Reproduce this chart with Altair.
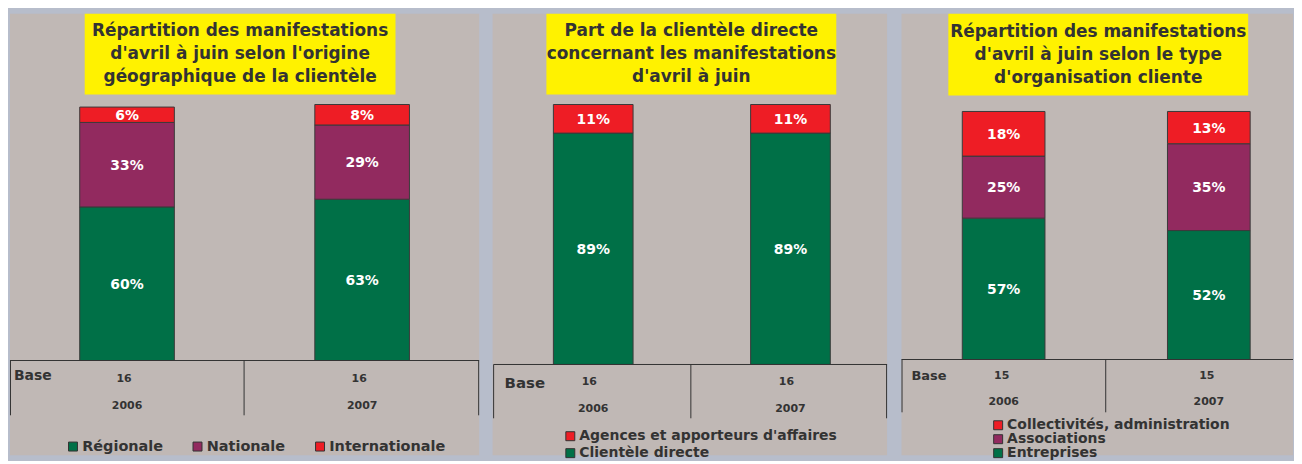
import altair as alt
import pandas as pd

# ---------------- data ----------------
YEARS = ["2006", "2007"]

P1_TITLE = ["Répartition des manifestations", "d'avril à juin selon l'origine", "géographique de la clientèle"]
P1_CATS = ["Régionale", "Nationale", "Internationale"]          # stacking order, bottom -> top
P1_2006 = [60, 33, 6]
P1_2007 = [63, 29, 8]
P1_BASE = [16, 16]
P1_LEGEND = ["Régionale", "Nationale", "Internationale"]

P2_TITLE = ["Part de la clientèle directe", "concernant les manifestations", "d'avril à juin"]
P2_CATS = ["Clientèle directe", "Agences et apporteurs d'affaires"]
P2_2006 = [89, 11]
P2_2007 = [89, 11]
P2_BASE = [16, 16]
P2_LEGEND = ["Agences et apporteurs d'affaires", "Clientèle directe"]

P3_TITLE = ["Répartition des manifestations", "d'avril à juin selon le type", "d'organisation cliente"]
P3_CATS = ["Entreprises", "Associations", "Collectivités, administration"]
P3_2006 = [57, 25, 18]
P3_2007 = [52, 35, 13]
P3_BASE = [15, 15]
P3_LEGEND = ["Collectivités, administration", "Associations", "Entreprises"]

# ---------------- styles ----------------
GREEN, PURPLE, RED = "#007047", "#922a5f", "#ee1d25"
YELLOW = "#fff200"
PANEL = "#c0b8b5"
BG = "#b7bdcb"
INK = "#333333"
FONT = "DejaVu Sans"
PANEL_H = 443


def panel(title, cats, v06, v07, base, legend_order, cat_colors, g):
    rows = []
    for yr, vals in zip(YEARS, [v06, v07]):
        for i, (c, v) in enumerate(zip(cats, vals)):
            rows.append({"year": yr, "cat": c, "value": v, "ord": i})
    df = pd.DataFrame(rows)
    base_df = pd.DataFrame({"year": YEARS, "base": base})
    one = pd.DataFrame({"k": [0]})

    cmap = dict(zip(cats, cat_colors))
    xs = alt.Scale(domain=YEARS, range=g["xr"], paddingInner=g["pi"], paddingOuter=0)
    ys = alt.Scale(domain=[0, 100], range=g["yr"])
    cs = alt.Scale(domain=legend_order, range=[cmap[c] for c in legend_order])

    layers = []
    # yellow title box
    layers.append(alt.Chart(one).mark_rect(color=YELLOW).encode(
        x=alt.value(g["tx"][0]), x2=alt.value(g["tx"][1]),
        y=alt.value(0), y2=alt.value(g["th"])))
    layers.append(alt.Chart(one).mark_text(
        text=title, font=FONT, fontSize=17, fontWeight="bold", color=INK,
        align="center", baseline="middle", lineHeight=23.3).encode(
        x=alt.value(g["tcx"]), y=alt.value(g["tcy"])))

    stacked = alt.Chart(df).transform_stack(
        stack="value", groupby=["year"], sort=[alt.SortField("ord", order="ascending")],
        as_=["v0", "v1"])

    leg = alt.Legend(
        title=None, orient="none", legendX=g["lx"], legendY=g["ly"],
        direction=g["ldir"], columns=g["lcols"], symbolType="square", symbolSize=81,
        symbolStrokeColor=INK, symbolStrokeWidth=1, labelFont=FONT,
        labelFontSize=g["lfs"], labelFontWeight="bold", labelColor=INK,
        labelOffset=2, columnPadding=27, rowPadding=g["lrp"], padding=0,
        labelLimit=400)

    layers.append(stacked.mark_bar(stroke="#3a3a3a", strokeWidth=1).encode(
        x=alt.X("year:N", scale=xs, axis=None),
        y=alt.Y("v0:Q", scale=ys, axis=None),
        y2="v1:Q",
        color=alt.Color("cat:N", scale=cs, legend=leg)))

    layers.append(stacked.transform_calculate(
        mid="(datum.v0 + datum.v1) / 2", label="datum.value + '%'").mark_text(
        font=FONT, fontSize=14, fontWeight="bold", color="white",
        align="center", baseline="middle", dy=1).encode(
        x=alt.X("year:N", scale=xs, axis=None),
        y=alt.Y("mid:Q", scale=ys, axis=None),
        text="label:N"))

    # table lines
    layers.append(alt.Chart(one).mark_rule(color=INK, strokeWidth=1).encode(
        x=alt.value(g["hx"][0]), x2=alt.value(g["hx"][1]), y=alt.value(g["hy"])))
    for vx in g["vx"]:
        layers.append(alt.Chart(one).mark_rule(color=INK, strokeWidth=1).encode(
            x=alt.value(vx), y=alt.value(g["hy"]), y2=alt.value(g["vy2"])))

    layers.append(alt.Chart(one).mark_text(
        text="Base", font=FONT, fontSize=g["bfs"], fontWeight="bold", color=INK,
        align="left", baseline="middle").encode(
        x=alt.value(g["bx"]), y=alt.value(g["by"])))

    layers.append(alt.Chart(base_df).mark_text(
        font=FONT, fontSize=11, fontWeight="bold", color=INK,
        align="center", baseline="middle", dx=g["cdx"]).encode(
        x=alt.X("year:N", scale=xs, axis=None),
        y=alt.value(g["cy"]), text="base:N"))

    layers.append(alt.Chart(base_df).mark_text(
        font=FONT, fontSize=11, fontWeight="bold", color=INK,
        align="center", baseline="middle").encode(
        x=alt.X("year:N", scale=xs, axis=None),
        y=alt.value(g["yy"]), text="year:N"))

    return alt.layer(*layers).properties(width=g["W"], height=PANEL_H)


G1 = dict(W=471, xr=[70, 401], pi=0.5975, yr=[348, 91], tx=[75, 387], th=81,
          tcx=231, tcy=17, hx=[0, 471], hy=348, vx=[0.5, 235, 470.5], vy2=403,
          bx=4, by=364, bfs=14, cy=367, cdx=-3, yy=394,
          lx=56, ly=427, ldir="horizontal", lcols=3, lfs=14.5, lrp=2)
G2 = dict(W=396, xr=[61, 339], pi=0.596, yr=[352, 91], tx=[54, 345], th=81,
          tcx=199.5, tcy=17, hx=[1, 396], hy=352, vx=[1, 199, 395.5], vy2=406,
          bx=12, by=371, bfs=15, cy=370, cdx=-4, yy=397,
          lx=71, ly=417, ldir="vertical", lcols=1, lfs=14, lrp=3)
G3 = dict(W=393, xr=[61, 350], pi=0.597, yr=[347, 98], tx=[47, 348], th=82,
          tcx=197.5, tcy=18, hx=[0, 393], hy=347, vx=[0.5, 205], vy2=400,
          bx=10, by=364, bfs=13, cy=364, cdx=-2, yy=390,
          lx=90, ly=406, ldir="vertical", lcols=1, lfs=14, lrp=0)

p1 = panel(P1_TITLE, P1_CATS, P1_2006, P1_2007, P1_BASE, P1_LEGEND, [GREEN, PURPLE, RED], G1)
p2 = panel(P2_TITLE, P2_CATS, P2_2006, P2_2007, P2_BASE, P2_LEGEND, [GREEN, RED], G2)
p3 = panel(P3_TITLE, P3_CATS, P3_2006, P3_2007, P3_BASE, P3_LEGEND, [GREEN, PURPLE, RED], G3)

chart = alt.hconcat(p1, p2, p3, spacing=12.5).resolve_scale(
    color="independent", x="independent", y="independent"
).resolve_legend(color="independent").properties(
    padding={"left": 1, "top": 5, "right": 0, "bottom": 0},
    background=BG,
).configure_view(fill=PANEL, stroke="transparent", strokeWidth=0)

chart.save("out.html", embed_options={"renderer": "svg", "actions": False})
